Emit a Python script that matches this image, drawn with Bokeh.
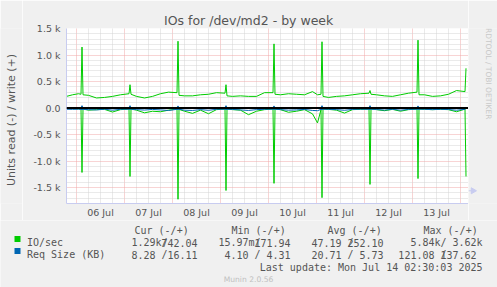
import math
from bokeh.plotting import figure
from bokeh.models import Range1d, FixedTicker, Label, Span, Title
from bokeh.layouts import row, column
from bokeh.embed import file_html
from bokeh.resources import INLINE

# ---------------- data (hours since 06 Jul 00:00) ----------------
hours = [
    -5, -2, 1, 2.25, 2.75, 3.25,
    6, 10, 14, 18, 22, 26.25, 26.75, 27.25,
    30, 34, 38, 42, 46, 50.25, 50.75, 51.25,
    54, 58, 62, 66, 70, 74.25, 74.75, 75.25,
    78, 82, 86, 90, 94, 98.25, 98.75, 99.25,
    102, 106, 110, 114, 118, 120.5, 122.25, 122.75, 123.25,
    126, 130, 134, 138, 142, 146.25, 146.75, 147.25,
    150, 154, 158, 162, 166, 170.25, 170.75, 171.25,
    174, 178, 182, 186, 190, 194.25, 194.75]

io_write = [
    220, 250, 270, 260, 1150, 250,
    240, 190, 200, 220, 250, 270, 440, 260,
    220, 190, 220, 270, 300, 290, 1260, 240,
    230, 230, 250, 260, 290, 280, 440, 230,
    220, 230, 220, 220, 290, 290, 1210, 260,
    250, 270, 260, 250, 310, 250, 260, 1250, 220,
    200, 220, 230, 250, 270, 280, 330, 260,
    250, 230, 220, 250, 280, 300, 1280, 250,
    250, 220, 230, 260, 330, 310, 750]

io_read = [
    10, 10, 15, 20, 1215, 20,
    40, 30, 25, 75, 30, 20, 1290, 20,
    40, 90, 60, 70, 40, 20, 1720, 25,
    60, 100, 40, 107, 30, 20, 1555, 20,
    30, 40, 125, 60, 30, 20, 1420, 20,
    30, 80, 60, 30, 110, 280, 30, 1690, 20,
    25, 40, 95, 30, 25, 20, 1440, 20,
    30, 50, 25, 60, 30, 20, 1330, 20,
    25, 30, 25, 30, 70, 20, 1290]

rq_write = [
    4, 4, 5, 5, 45, 5,
    4, 4, 4, 5, 4, 5, 45, 5,
    4, 4, 4, 5, 5, 5, 40, 5,
    4, 4, 5, 5, 5, 5, 45, 4,
    4, 4, 4, 4, 5, 5, 40, 5,
    4, 5, 5, 4, 5, 5, 5, 45, 4,
    4, 4, 4, 4, 5, 5, 45, 5,
    4, 4, 4, 4, 5, 5, 40, 5,
    4, 4, 4, 5, 5, 5, 16]

rq_read = [
    22, 25, 22, 25, 30, 24,
    30, 35, 22, 40, 24, 22, 28, 22,
    30, 38, 26, 35, 45, 24, 30, 22,
    40, 45, 30, 42, 24, 22, 30, 24,
    26, 35, 45, 30, 24, 22, 28, 22,
    30, 40, 35, 26, 45, 50, 25, 30, 22,
    24, 30, 42, 26, 22, 24, 30, 22,
    28, 38, 24, 40, 26, 22, 28, 22,
    24, 30, 24, 28, 40, 24, 8]

day_labels = ["06 Jul", "07 Jul", "08 Jul", "09 Jul", "10 Jul", "11 Jul", "12 Jul", "13 Jul"]
y_ticks = [-1500, -1000, -500, 0, 500, 1000, 1500]
y_tick_labels = ["-1.5 k", "-1.0 k", "-0.5 k", "0.0", "0.5 k", "1.0 k", "1.5 k"]

series_names = ["IO/sec", "Req Size (KB)"]
series_colors = ["#00CC00", "#0066B3"]
col_headers = ["Cur (-/+)", "Min (-/+)", "Avg (-/+)", "Max (-/+)"]
# read / write values as printed (rrdtool "%6.2lf%s" fields)
cur_read = ["1.29k", "8.28 "]
cur_write = ["742.04", " 16.11"]
min_read = ["15.97m", "4.10 "]
min_write = ["171.94", "  4.31"]
avg_read = ["47.19 ", "20.71 "]
avg_write = ["252.10", "  5.73"]
max_read = ["5.84k", "121.08 "]
max_write = ["  3.62k", "137.62"]
last_update = "Last update: Mon Jul 14 02:30:03 2025"

# ---------------- layout constants (canvas px) ----------------
W, H = 497, 287
FL, FR, FT, FB = 66, 468, 28, 204      # plot frame in canvas pixels
YL_W = 22                              # left strip with axis label
TOP_H = 220                            # height of the upper row
X0, X1 = -5, 196
Y0, Y1 = -1800, 1500
BG = "#F0F0F0"
AXC = "#C8CCF0"
TXT = "#555555"
FONT = "DejaVu Sans"
MONO = "DejaVu Sans Mono"
CW = 6.02                              # mono char width at 10px


def blank(width, height, x0, x1, y0, y1):
    f = figure(width=width, height=height, output_backend="svg", toolbar_location=None,
               x_range=Range1d(x0, x1), y_range=Range1d(y0, y1), title=None,
               x_axis_location=None, y_axis_location=None, min_border=0)
    f.min_border_left = f.min_border_right = f.min_border_top = f.min_border_bottom = 0
    f.grid.visible = False
    f.outline_line_color = None
    f.background_fill_color = BG
    f.border_fill_color = BG
    return f


def put(f, text, px, py, size, color=TXT, align="left", baseline="alphabetic",
        angle=0.0, font=FONT):
    # px, py: canvas pixels (y down); helper figures use y = H - py
    f.add_layout(Label(x=px, y=H - py, text=text, text_font=font, text_font_size=size,
                       text_color=color, text_align=align, text_baseline=baseline,
                       angle=angle))


# ---------------- main plot ----------------
p = figure(width=FR - YL_W, height=TOP_H, output_backend="svg", toolbar_location=None,
           x_range=Range1d(X0, X1), y_range=Range1d(Y0, Y1), title=None,
           min_border_left=FL - YL_W, min_border_right=0,
           min_border_top=FT, min_border_bottom=TOP_H - FB)
p.background_fill_color = "white"
p.border_fill_color = BG
p.outline_line_color = None

p.add_layout(Title(text="IOs for /dev/md2 - by week", align="left", offset=97.5,
                   text_font=FONT, text_font_size="12.5px", text_font_style="normal",
                   text_color=TXT, standoff=2, vertical_align="bottom"), "above")

p.xaxis.ticker = FixedTicker(ticks=[12 + 24 * i for i in range(len(day_labels))])
p.xaxis.major_label_overrides = {12 + 24 * i: lab for i, lab in enumerate(day_labels)}
p.yaxis.ticker = FixedTicker(ticks=y_ticks)
p.yaxis.major_label_overrides = {t: lab for t, lab in zip(y_ticks, y_tick_labels)}
for ax in (p.xaxis, p.yaxis):
    ax.major_tick_out = 0
    ax.major_tick_in = 0
    ax.minor_tick_out = 0
    ax.minor_tick_in = 0
    ax.axis_line_color = AXC
    ax.major_label_text_font = FONT
    ax.major_label_text_font_size = "9.5px"
    ax.major_label_text_color = TXT
p.xaxis.major_label_standoff = 3
p.yaxis.major_label_standoff = 6

midnights = [24 * i for i in range(9)]
six_h = [24 * i + k for i in range(-1, 9) for k in (6, 12, 18) if X0 <= 24 * i + k <= X1]
p.xgrid.ticker = FixedTicker(ticks=midnights, minor_ticks=six_h)
y_minor = [v for v in range(-1800, 1501, 100) if v % 500 != 0]
p.ygrid.ticker = FixedTicker(ticks=y_ticks, minor_ticks=y_minor)
for g in (p.xgrid, p.ygrid):
    g.grid_line_color = "#F0A8A8"
    g.grid_line_dash = "1 1"
    g.minor_grid_line_color = "#D4D4D4"
    g.minor_grid_line_dash = "1 1"

neg_io = [-v for v in io_read]
neg_rq = [-v for v in rq_read]
p.line(hours, neg_io, line_color=series_colors[0], line_width=1)
p.line(hours, io_write, line_color=series_colors[0], line_width=1)
p.line(hours, neg_rq, line_color=series_colors[1], line_width=1)
p.line(hours, rq_write, line_color=series_colors[1], line_width=1)
p.add_layout(Span(location=0, dimension="width", line_color="black", line_width=2))

# ---------------- left strip: axis label ----------------
ylab = blank(YL_W, TOP_H, 0, YL_W, H - TOP_H, H)
put(ylab, "Units read (-) / write (+)", 10.5, 115, "11px", align="center",
    baseline="middle", angle=math.pi / 2)

# ---------------- right strip: rrdtool credit + x-axis arrow ----------------
rrd = blank(W - FR, TOP_H, FR, W, H - TOP_H, H)
put(rrd, "RRDTOOL / TOBI OETIKER", 487.5, 53.5, "7.5px", color="#C8C8C8",
    align="center", baseline="middle", angle=-math.pi / 2)
rrd.line([FR, FR + 4], [H - FB, H - FB], line_color=AXC, line_width=1)
rrd.scatter([FR + 4.5], [H - FB], marker="triangle", size=6, angle=-math.pi / 2,
            fill_color=AXC, line_color=AXC)

# ---------------- legend block ----------------
leg = blank(W, H - TOP_H, 0, W, 0, H - TOP_H)
MS = "10px"
hdr_y = 230
hdr_x = [134, 231, 327, 423]
for hx, htxt in zip(hdr_x, col_headers):
    put(leg, htxt, hx, hdr_y, MS, font=MONO)

row_y = [242, 254]
slash_x = [161, 254, 347, 440]
for i in range(2):
    y = row_y[i]
    leg.rect([17], [H - (y - 3.5)], width=6, height=6, fill_color=series_colors[i],
             line_color=None)
    put(leg, series_names[i], 26.5, y, MS, font=MONO)
    reads = [cur_read[i], min_read[i], avg_read[i], max_read[i]]
    writes = [cur_write[i], min_write[i], avg_write[i], max_write[i]]
    for j in range(4):
        sx = slash_x[j]
        r = reads[j]
        r_vis = r.rstrip()
        put(leg, r_vis, sx - (len(r) - len(r_vis)) * CW, y, MS, font=MONO, align="right")
        put(leg, "/", sx, y, MS, font=MONO)
        w = writes[j]
        w_vis = w.lstrip()
        put(leg, w_vis, sx + (len(w) - len(w_vis)) * CW, y, MS, font=MONO)

put(leg, last_update, 482, 266.5, MS, font=MONO, align="right")
put(leg, "Munin 2.0.56", 248, 278.5, "7.6px", color="#C0C0C0", align="center")

layout = column(row(ylab, p, rrd, spacing=0), leg, spacing=0)
open("out.html", "w").write(file_html(layout, INLINE))
